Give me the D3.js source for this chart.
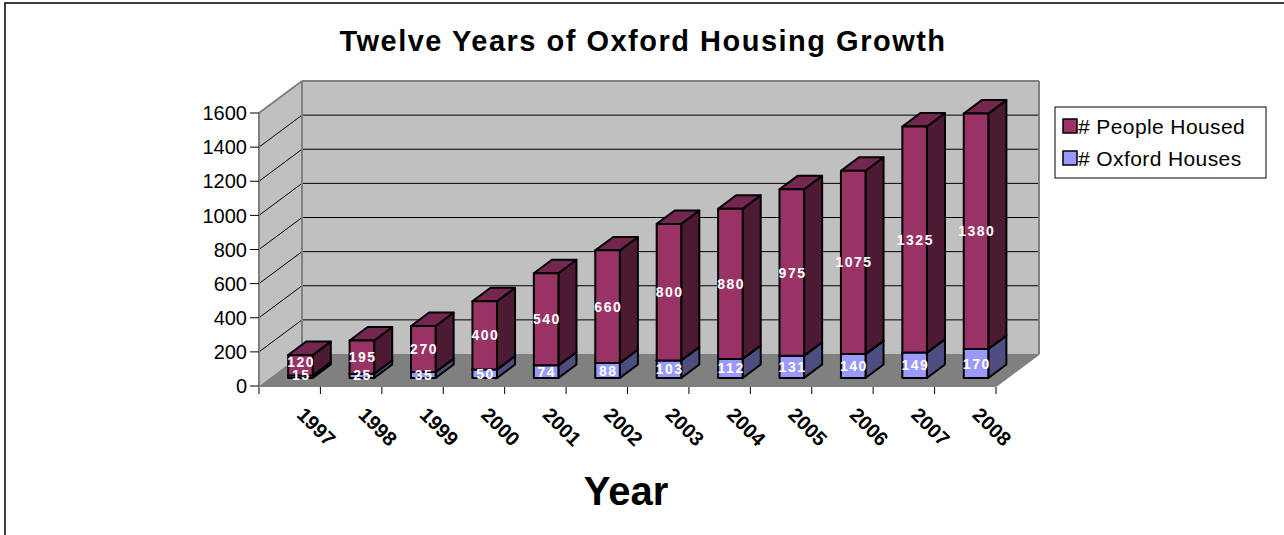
<!DOCTYPE html>
<html>
<head>
<meta charset="utf-8">
<script src="https://cdn.jsdelivr.net/npm/d3@7"></script>
<style>
  html, body { margin: 0; padding: 0; background: #fff; }
  svg { display: block; font-family: "Liberation Sans", Arial, sans-serif; }
</style>
</head>
<body>
<svg id="chart" width="1284" height="535"></svg>
<script>
const years = ["1997","1998","1999","2000","2001","2002","2003","2004","2005","2006","2007","2008"];
const oxfordHouses = [15,25,35,50,74,88,103,112,131,140,149,170];
const peopleHoused = [120,195,270,400,540,660,800,880,975,1075,1325,1380];
const yTicks = [0,200,400,600,800,1000,1200,1400,1600];
const seriesNames = ["# Oxford Houses","# People Housed"];
const titleText = "Twelve Years of Oxford Housing Growth";
const xTitle = "Year";

const svg = d3.select("#chart");

// frame
svg.append("rect").attr("x",5).attr("y",3).attr("width",1300).attr("height",560)
  .attr("fill","#fff").attr("stroke","#000").attr("stroke-width",1.5);

// geometry
const X0 = 259, X1 = 996, Y0 = 386, Y1 = 113;
const DX = 43, DY = -32;             // full depth offset
const y = d3.scaleLinear().domain([0,1600]).range([Y0,Y1]);
const x = d3.scaleBand().domain(years).range([X0,X1]).paddingInner(0.6).paddingOuter(0.3);
const step = x.step();
const t0 = 0.25, t1 = 0.67;

const wallFill = "#c0c0c0", floorFill = "#808080", edge = "#808080";

// left wall
svg.append("polygon")
  .attr("points", [[X0,y(1600)],[X0+DX,y(1600)+DY],[X0+DX,y(0)+DY],[X0,y(0)]].map(p=>p.join(",")).join(" "))
  .attr("fill", wallFill);
// back wall
svg.append("polygon")
  .attr("points", [[X0+DX,y(1600)+DY],[X1+DX,y(1600)+DY],[X1+DX,y(0)+DY],[X0+DX,y(0)+DY]].map(p=>p.join(",")).join(" "))
  .attr("fill", wallFill);
// floor
svg.append("polygon")
  .attr("points", [[X0,y(0)],[X1,y(0)],[X1+DX,y(0)+DY],[X0+DX,y(0)+DY]].map(p=>p.join(",")).join(" "))
  .attr("fill", floorFill);

// gridlines
const grid = svg.append("g");
yTicks.filter(v=>v>0 && v<1600).forEach(v=>{
  grid.append("line").attr("x1",X0).attr("y1",y(v)).attr("x2",X0+DX).attr("y2",y(v)+DY)
    .attr("stroke","#000").attr("stroke-width",1);
  grid.append("line").attr("x1",X0+DX).attr("y1",y(v)+DY).attr("x2",X1+DX).attr("y2",y(v)+DY)
    .attr("stroke","#000").attr("stroke-width",1);
});

// wall edges
const edges = [
  [[X0,y(1600)],[X0+DX,y(1600)+DY]],
  [[X0+DX,y(1600)+DY],[X1+DX,y(1600)+DY]],
  [[X1+DX,y(1600)+DY],[X1+DX,y(0)+DY]],
  [[X1+DX,y(0)+DY],[X1,y(0)]],
  [[X0+DX,y(1600)+DY],[X0+DX,y(0)+DY]]
];
edges.forEach(e=>svg.append("line").attr("x1",e[0][0]).attr("y1",e[0][1]).attr("x2",e[1][0]).attr("y2",e[1][1])
  .attr("stroke",edge).attr("stroke-width",2));

// bars
const stackData = years.map((yr,i)=>({year:yr, houses:oxfordHouses[i], people:peopleHoused[i]}));
const stacked = d3.stack().keys(["houses","people"])(stackData);
const colors = {
  houses: {front:"#9999ff", side:"#4d4d80", top:"#7676c4"},
  people: {front:"#993366", side:"#4d1a33", top:"#732650"}
};
const fx = DX*t0, fy = DY*t0, bx = DX*t1, by = DY*t1;
const pts = a => a.map(p=>p.join(",")).join(" ");
const barG = svg.append("g");
years.forEach((yr,i)=>{
  stacked.forEach(s=>{
    const d = s[i];
    const c = colors[s.key];
    const xl = x(yr) + fx, xr = x(yr) + x.bandwidth() + fx;
    const yb = y(d[0]) + fy, yt = y(d[1]) + fy;
    const ox = bx-fx, oy = by-fy;
    const g = barG.append("g").attr("stroke","#000").attr("stroke-width",2).attr("stroke-linejoin","round");
    g.append("polygon").attr("points", pts([[xr,yb],[xr+ox,yb+oy],[xr+ox,yt+oy],[xr,yt]])).attr("fill",c.side);
    g.append("polygon").attr("points", pts([[xl,yt],[xr,yt],[xr+ox,yt+oy],[xl+ox,yt+oy]])).attr("fill",c.top);
    g.append("polygon").attr("points", pts([[xl,yb],[xr,yb],[xr,yt],[xl,yt]])).attr("fill",c.front);
  });
});
// bar labels
years.forEach((yr,i)=>{
  stacked.forEach(s=>{
    const d = s[i];
    const cx = x(yr) + x.bandwidth()/2 + fx;
    let cy = (y(d[0]) + y(d[1]))/2 + fy;
    if (s.key==="houses") cy = Math.min(cy, y(0)+fy-3.5);
    else cy = Math.min(cy, y(d[0])+fy-13.5);
    svg.append("text").attr("x",cx+0.75).attr("y",cy).attr("dy","0.36em")
      .attr("text-anchor","middle").attr("fill","#fff")
      .attr("font-size",14).attr("font-weight","bold").attr("letter-spacing",1.5)
      .text(d.data[s.key]);
  });
});

// y axis
svg.append("line").attr("x1",X0).attr("y1",Y1).attr("x2",X0).attr("y2",Y0).attr("stroke",edge).attr("stroke-width",2);
const yAx = svg.append("g");
yTicks.forEach(v=>{
  yAx.append("line").attr("x1",X0-9).attr("x2",X0).attr("y1",y(v)).attr("y2",y(v)).attr("stroke","#000").attr("stroke-width",1);
  yAx.append("text").attr("x",X0-12).attr("y",y(v)).attr("dy","0.36em").attr("text-anchor","end")
    .attr("font-size",20).attr("fill","#000").text(v);
});

// x axis
svg.append("line").attr("x1",X0).attr("y1",Y0).attr("x2",X1).attr("y2",Y0).attr("stroke",edge).attr("stroke-width",2);
const xAx = svg.append("g");
d3.range(years.length+1).forEach(k=>{
  const xx = X0 + k*step;
  xAx.append("line").attr("x1",xx).attr("x2",xx).attr("y1",Y0+1).attr("y2",Y0+8).attr("stroke","#000").attr("stroke-width",1);
});
years.forEach(yr=>{
  const cx = x(yr) + x.bandwidth()/2;
  xAx.append("text").attr("transform",`translate(${cx+6},${416}) rotate(45)`)
    .attr("font-size",20).attr("font-weight","bold").attr("fill","#000").text(yr);
});

// titles
svg.append("text").attr("x",643).attr("y",51).attr("text-anchor","middle")
  .attr("font-size",29).attr("font-weight","bold").attr("letter-spacing",1.5).text(titleText);
svg.append("text").attr("x",626).attr("y",505).attr("text-anchor","middle")
  .attr("font-size",40).attr("font-weight","bold").text(xTitle);

// legend
const lg = svg.append("g");
lg.append("rect").attr("x",1055).attr("y",107).attr("width",211).attr("height",71)
  .attr("fill","#fff").attr("stroke","#000").attr("stroke-width",1);
const legendItems = [
  {name: seriesNames[1], color: colors.people.front},
  {name: seriesNames[0], color: colors.houses.front}
];
legendItems.forEach((it,k)=>{
  const yy = 119 + k*32;
  lg.append("rect").attr("x",1063).attr("y",yy).attr("width",14).attr("height",14)
    .attr("fill",it.color).attr("stroke","#000").attr("stroke-width",1.5);
  lg.append("text").attr("x",1078).attr("y",yy+15).attr("font-size",21).attr("letter-spacing",0.4)
    .attr("fill","#000").text(it.name);
});
</script>
</body>
</html>
